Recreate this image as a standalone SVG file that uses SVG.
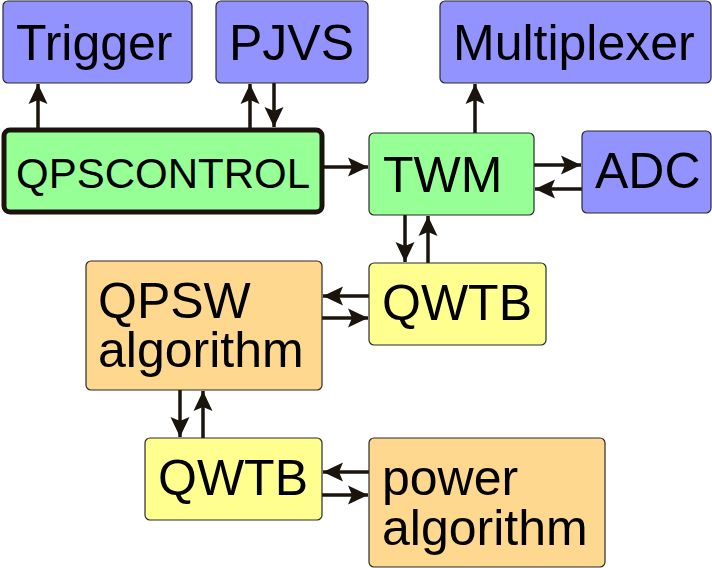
<svg xmlns="http://www.w3.org/2000/svg" width="712" height="568" viewBox="0 0 712 568">
<style>
.box{stroke:#2b2b2b;stroke-width:1.2}
.blue{fill:#9393ff}
.green{fill:#96ff96}
.yellow{fill:#ffff8f}
.orange{fill:#ffd88f}
.t{font-family:"Liberation Sans",Arial,sans-serif;font-size:50px;fill:#000}
.c{stroke:#1a140d;stroke-width:3.5;fill:none;marker-end:url(#ah)}
</style>
<defs>
<marker id="ah" markerUnits="userSpaceOnUse" markerWidth="1" markerHeight="1" refX="0" refY="0" orient="auto" overflow="visible">
<path d="M0,0 L-20,-9.5 L-16,0 L-20,9.5 Z" fill="#1a140d"/>
</marker>
</defs>
<g id="connectors">
<path class="c" d="M38,128 V84"/>
<path class="c" d="M250,128 V84"/>
<path class="c" d="M274,83 V127"/>
<path class="c" d="M324,167 H368"/>
<path class="c" d="M475,133 V84"/>
<path class="c" d="M534,165 H581"/>
<path class="c" d="M582,189 H535"/>
<path class="c" d="M405,215 V262"/>
<path class="c" d="M428,263 V216"/>
<path class="c" d="M369,296 H323"/>
<path class="c" d="M322,318 H368"/>
<path class="c" d="M180,390 V437"/>
<path class="c" d="M203,438 V391"/>
<path class="c" d="M369,472 H323"/>
<path class="c" d="M322,495 H368"/>
</g>
<g id="trigger">
<rect class="box blue" x="3" y="1" width="189" height="82" rx="5"/>
<text class="t" x="16" y="60">Trigger</text>
</g>
<g id="pjvs">
<rect class="box blue" x="216" y="1" width="152" height="82" rx="5"/>
<text class="t" x="229" y="60">PJVS</text>
</g>
<g id="multiplexer">
<rect class="box blue" x="440" y="1" width="271" height="82" rx="5"/>
<text class="t" x="453" y="60">Multiplexer</text>
</g>
<g id="qpscontrol">
<rect x="4" y="130" width="318" height="82" rx="6" fill="#96ff96" stroke="#1a140d" stroke-width="5"/>
<text class="t" x="16" y="188" style="font-size:42px">QPSCONTROL</text>
</g>
<g id="twm">
<rect class="box green" x="369" y="133" width="165" height="82" rx="5"/>
<text class="t" x="383" y="192">TWM</text>
</g>
<g id="adc">
<rect class="box blue" x="582" y="131" width="129" height="82" rx="5"/>
<text class="t" x="595" y="188">ADC</text>
</g>
<g id="qwtb1">
<rect class="box yellow" x="369" y="263" width="177" height="82" rx="5"/>
<text class="t" x="382" y="320">QWTB</text>
</g>
<g id="qpsw">
<rect class="box orange" x="86" y="261" width="236" height="129" rx="5"/>
<text class="t" x="98" y="318">QPSW</text>
<text class="t" x="98" y="367">algorithm</text>
</g>
<g id="qwtb2">
<rect class="box yellow" x="145" y="438" width="177" height="82" rx="5"/>
<text class="t" x="158" y="495">QWTB</text>
</g>
<g id="power">
<rect class="box orange" x="369" y="438" width="236" height="129" rx="5"/>
<text class="t" x="382" y="495">power</text>
<text class="t" x="382" y="545">algorithm</text>
</g>
</svg>
